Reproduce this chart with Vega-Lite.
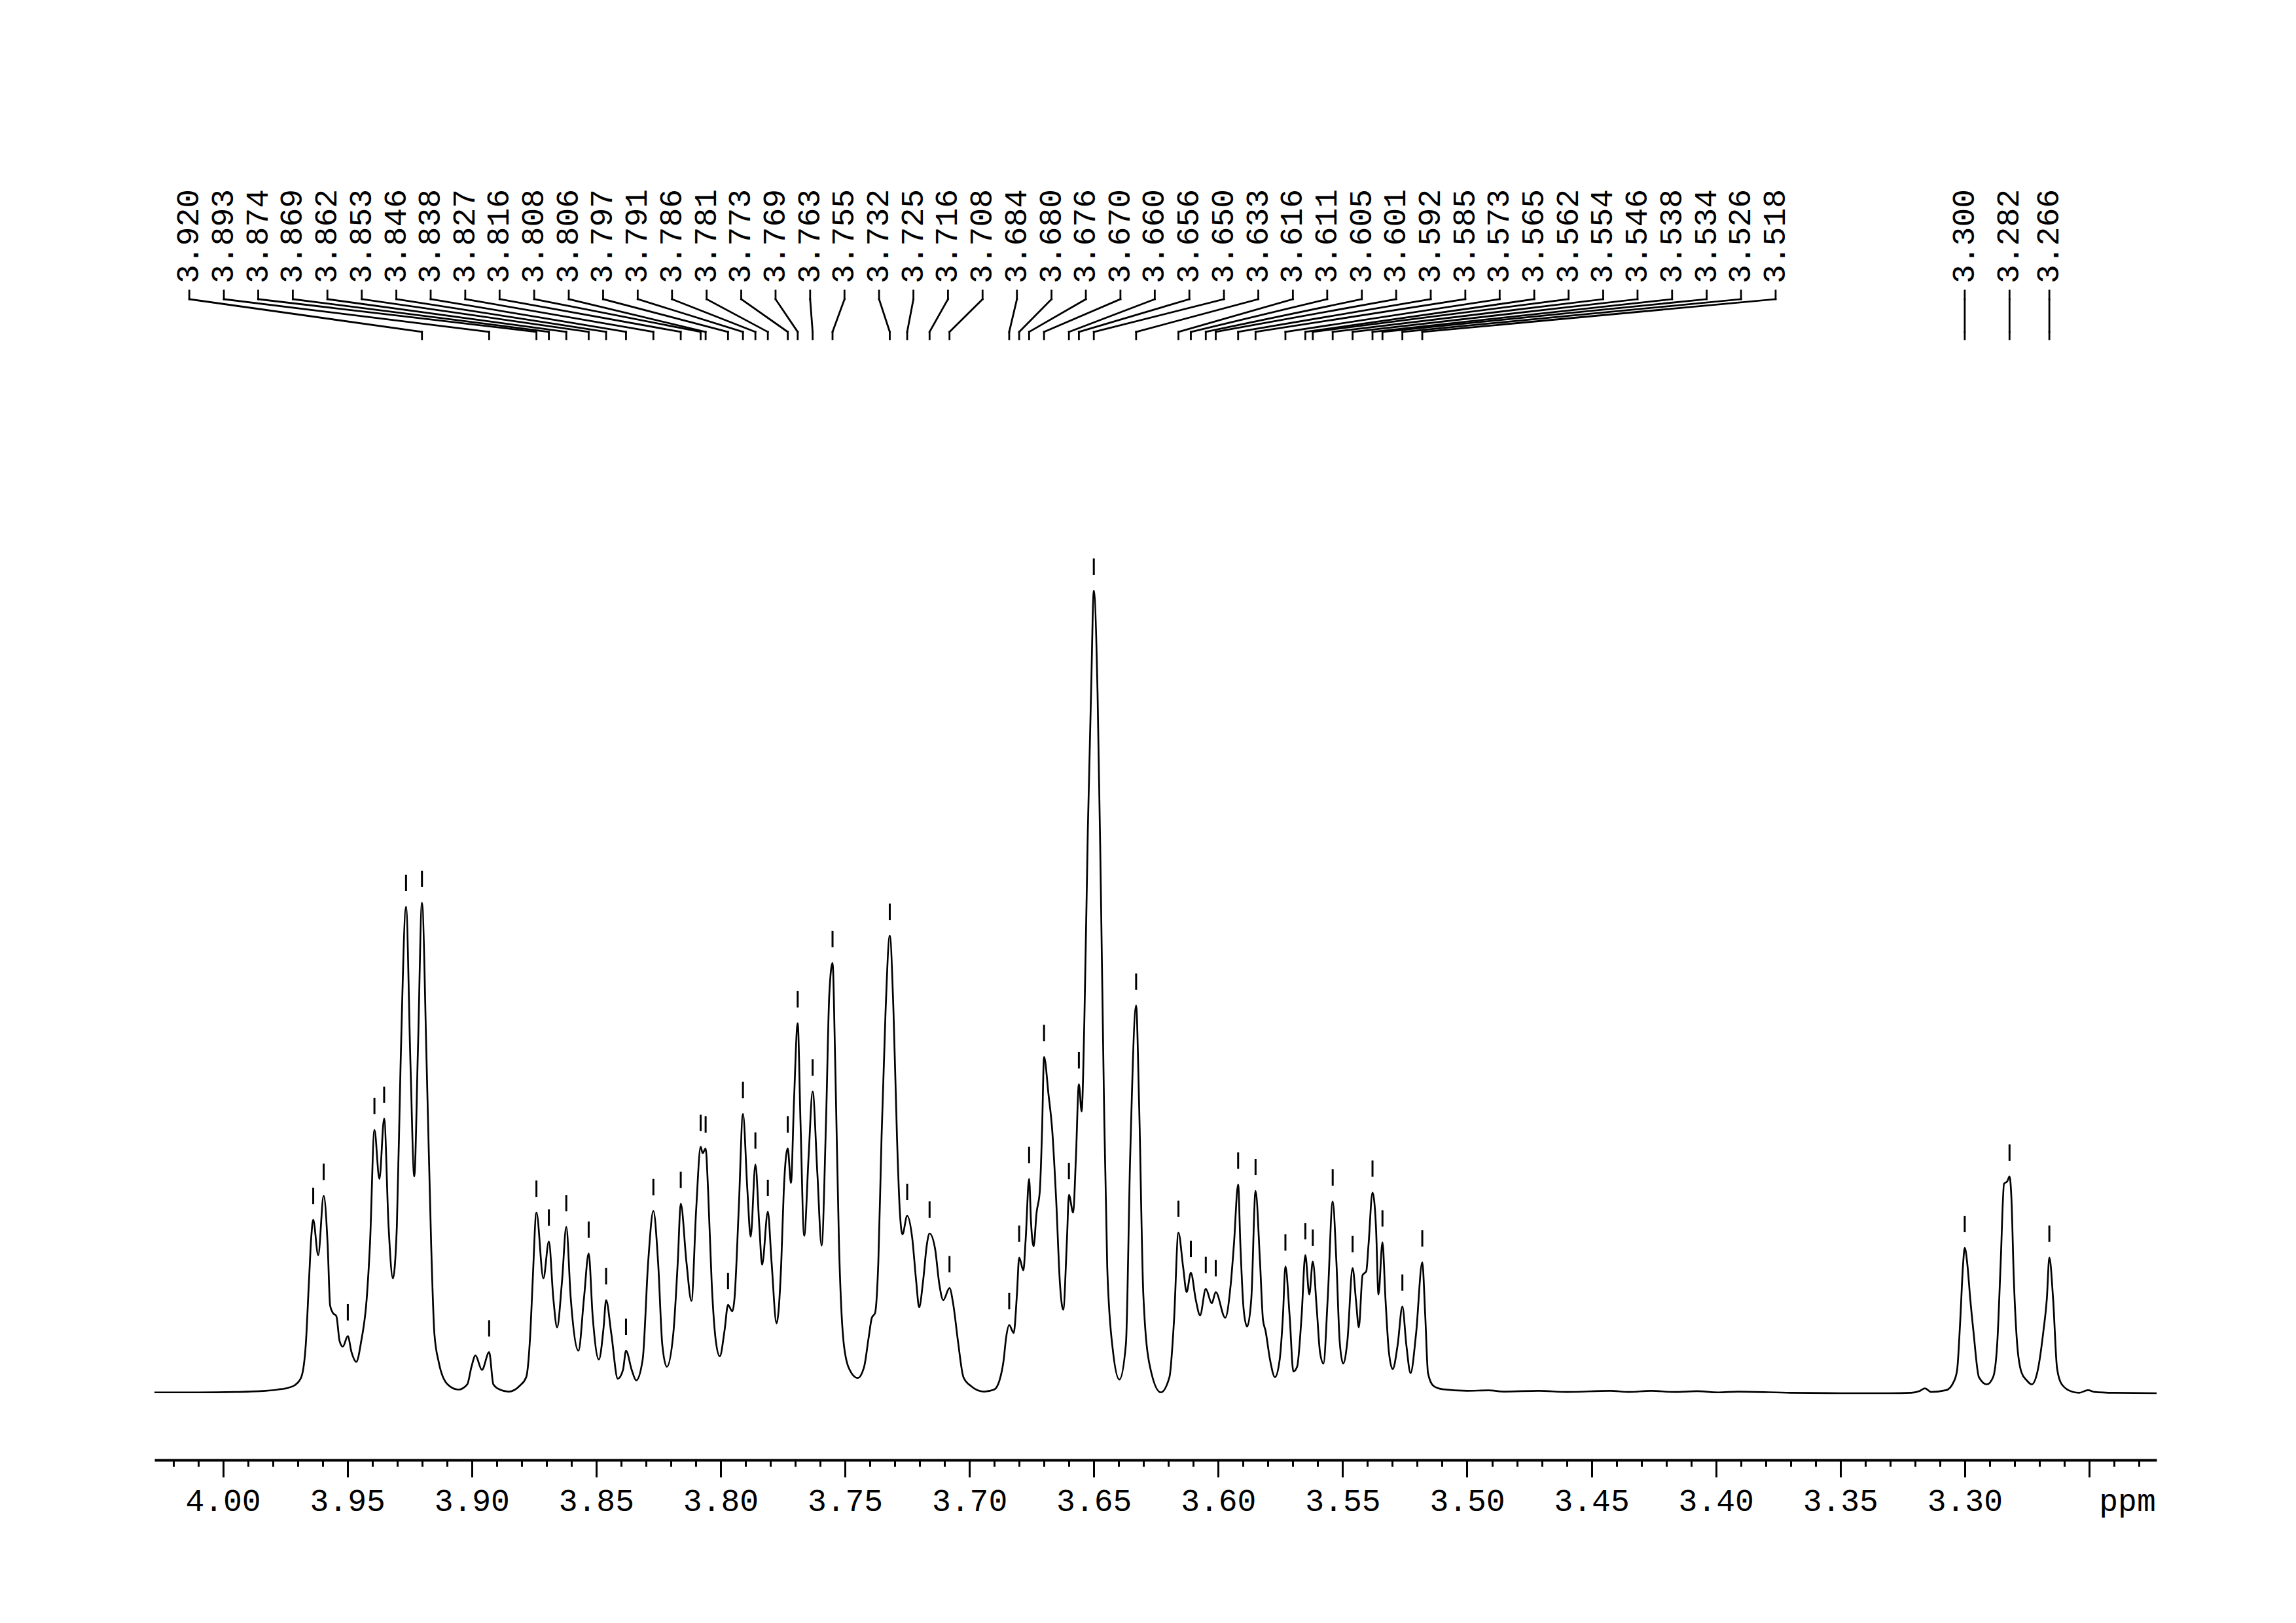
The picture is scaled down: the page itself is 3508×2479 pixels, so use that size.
{
 "$schema": "https://vega.github.io/schema/vega-lite/v6.json",
 "width": 3059, "height": 2230,
 "autosize": {"type": "none"},
 "padding": {"left": 236, "top": 0, "right": 213, "bottom": 249},
 "background": "white",
 "config": {"view": {"stroke": null}},
 "resolve": {"axis": {"x": "independent"}},
 "datasets": {
  "spectrum": [
   {"ppm":4.0275,"intensity":0.1},{"ppm":4.01,"intensity":0.1},{"ppm":3.995,"intensity":0.15},{"ppm":3.985,"intensity":0.25},{"ppm":3.978,"intensity":0.45},{"ppm":3.9735,"intensity":0.7},{"ppm":3.9711,"intensity":1.0},{"ppm":3.9685,"intensity":2.0},{"ppm":3.9667,"intensity":6.0},{"ppm":3.9654,"intensity":14.0},{"ppm":3.9645,"intensity":19.4},{"ppm":3.9637,"intensity":21.6},{"ppm":3.9617,"intensity":17.2},{"ppm":3.9595,"intensity":24.6},{"ppm":3.9579,"intensity":18.5},{"ppm":3.9569,"intensity":10.9},{"ppm":3.9558,"intensity":10.0},{"ppm":3.9544,"intensity":9.6},{"ppm":3.9531,"intensity":6.5},{"ppm":3.9518,"intensity":5.8},{"ppm":3.9498,"intensity":7.1},{"ppm":3.9483,"intensity":5.1},{"ppm":3.9464,"intensity":3.9},{"ppm":3.9444,"intensity":6.5},{"ppm":3.9422,"intensity":11.8},{"ppm":3.9409,"intensity":18.5},{"ppm":3.9391,"intensity":32.8},{"ppm":3.9371,"intensity":26.7},{"ppm":3.9352,"intensity":34.2},{"ppm":3.9334,"intensity":20.7},{"ppm":3.9317,"intensity":14.3},{"ppm":3.9301,"intensity":20.7},{"ppm":3.9286,"intensity":40.8},{"ppm":3.9264,"intensity":60.6},{"ppm":3.9246,"intensity":40.8},{"ppm":3.9231,"intensity":27.0},{"ppm":3.9216,"intensity":43.0},{"ppm":3.92,"intensity":61.1},{"ppm":3.9181,"intensity":40.8},{"ppm":3.9163,"intensity":18.5},{"ppm":3.915,"intensity":7.4},{"ppm":3.9132,"intensity":3.8},{"ppm":3.9097,"intensity":1.1},{"ppm":3.9054,"intensity":0.45},{"ppm":3.9018,"intensity":1.1},{"ppm":3.9001,"intensity":3.3},{"ppm":3.8985,"intensity":4.7},{"ppm":3.8959,"intensity":2.9},{"ppm":3.893,"intensity":5.1},{"ppm":3.8913,"intensity":1.1},{"ppm":3.8887,"intensity":0.45},{"ppm":3.8852,"intensity":0.2},{"ppm":3.8808,"intensity":0.9},{"ppm":3.8781,"intensity":2.0},{"ppm":3.8764,"intensity":7.8},{"ppm":3.8755,"intensity":14.0},{"ppm":3.874,"intensity":22.5},{"ppm":3.8712,"intensity":14.3},{"ppm":3.869,"intensity":18.9},{"ppm":3.8672,"intensity":11.8},{"ppm":3.8657,"intensity":8.2},{"ppm":3.8637,"intensity":14.0},{"ppm":3.862,"intensity":20.7},{"ppm":3.8602,"intensity":11.8},{"ppm":3.8571,"intensity":5.3},{"ppm":3.8549,"intensity":11.8},{"ppm":3.853,"intensity":17.4},{"ppm":3.8514,"intensity":9.6},{"ppm":3.8489,"intensity":4.2},{"ppm":3.847,"intensity":8.2},{"ppm":3.846,"intensity":11.6},{"ppm":3.8439,"intensity":7.4},{"ppm":3.8413,"intensity":1.8},{"ppm":3.8392,"intensity":2.9},{"ppm":3.838,"intensity":5.3},{"ppm":3.8357,"intensity":2.9},{"ppm":3.8339,"intensity":1.6},{"ppm":3.8313,"intensity":4.2},{"ppm":3.8291,"intensity":16.3},{"ppm":3.827,"intensity":22.7},{"ppm":3.8251,"intensity":16.3},{"ppm":3.8234,"intensity":6.0},{"ppm":3.8216,"intensity":3.3},{"ppm":3.819,"intensity":7.4},{"ppm":3.8172,"intensity":16.3},{"ppm":3.816,"intensity":23.6},{"ppm":3.8137,"intensity":16.3},{"ppm":3.8117,"intensity":11.5},{"ppm":3.8098,"intensity":22.9},{"ppm":3.808,"intensity":30.7},{"ppm":3.8072,"intensity":29.9},{"ppm":3.806,"intensity":30.5},{"ppm":3.805,"intensity":25.2},{"ppm":3.8036,"intensity":14.0},{"ppm":3.8019,"intensity":6.5},{"ppm":3.8003,"intensity":4.6},{"ppm":3.7984,"intensity":7.8},{"ppm":3.797,"intensity":11.0},{"ppm":3.7953,"intensity":10.2},{"ppm":3.7944,"intensity":11.8},{"ppm":3.7927,"intensity":22.9},{"ppm":3.791,"intensity":34.8},{"ppm":3.7892,"intensity":25.2},{"ppm":3.7879,"intensity":19.5},{"ppm":3.786,"intensity":28.5},{"ppm":3.7844,"intensity":20.7},{"ppm":3.7833,"intensity":16.0},{"ppm":3.781,"intensity":22.6},{"ppm":3.7795,"intensity":16.3},{"ppm":3.7775,"intensity":8.7},{"ppm":3.7756,"intensity":16.3},{"ppm":3.7746,"intensity":25.2},{"ppm":3.773,"intensity":30.5},{"ppm":3.7717,"intensity":26.2},{"ppm":3.7705,"intensity":36.3},{"ppm":3.769,"intensity":46.1},{"ppm":3.7679,"intensity":34.1},{"ppm":3.7664,"intensity":19.6},{"ppm":3.7646,"intensity":29.6},{"ppm":3.763,"intensity":37.6},{"ppm":3.7611,"intensity":27.4},{"ppm":3.7594,"intensity":18.4},{"ppm":3.7576,"intensity":34.1},{"ppm":3.7563,"intensity":49.7},{"ppm":3.755,"intensity":53.6},{"ppm":3.7539,"intensity":40.8},{"ppm":3.7524,"intensity":18.5},{"ppm":3.7506,"intensity":6.5},{"ppm":3.7484,"intensity":3.1},{"ppm":3.7449,"intensity":1.9},{"ppm":3.7423,"intensity":3.3},{"ppm":3.7405,"intensity":6.9},{"ppm":3.7392,"intensity":9.4},{"ppm":3.7379,"intensity":10.0},{"ppm":3.7366,"intensity":16.3},{"ppm":3.7353,"intensity":31.9},{"ppm":3.7337,"intensity":47.5},{"ppm":3.732,"intensity":57.0},{"ppm":3.7305,"intensity":47.5},{"ppm":3.7291,"intensity":31.9},{"ppm":3.728,"intensity":22.9},{"ppm":3.7269,"intensity":19.8},{"ppm":3.725,"intensity":22.1},{"ppm":3.723,"intensity":19.4},{"ppm":3.7214,"intensity":14.0},{"ppm":3.7202,"intensity":10.7},{"ppm":3.7186,"intensity":14.0},{"ppm":3.7171,"intensity":18.5},{"ppm":3.716,"intensity":19.9},{"ppm":3.7138,"intensity":18.0},{"ppm":3.7121,"intensity":13.6},{"ppm":3.7105,"intensity":11.6},{"ppm":3.708,"intensity":13.1},{"ppm":3.7064,"intensity":10.9},{"ppm":3.7046,"intensity":6.5},{"ppm":3.7024,"intensity":2.0},{"ppm":3.6994,"intensity":0.9},{"ppm":3.6941,"intensity":0.2},{"ppm":3.6901,"intensity":0.45},{"ppm":3.6879,"intensity":1.6},{"ppm":3.6862,"intensity":4.2},{"ppm":3.6853,"intensity":6.8},{"ppm":3.684,"intensity":8.5},{"ppm":3.6822,"intensity":7.5},{"ppm":3.6809,"intensity":12.3},{"ppm":3.68,"intensity":16.9},{"ppm":3.6783,"intensity":15.3},{"ppm":3.6774,"intensity":19.1},{"ppm":3.676,"intensity":26.7},{"ppm":3.6752,"intensity":21.1},{"ppm":3.6742,"intensity":18.3},{"ppm":3.673,"intensity":22.5},{"ppm":3.6717,"intensity":25.2},{"ppm":3.6708,"intensity":32.7},{"ppm":3.67,"intensity":41.9},{"ppm":3.6682,"intensity":37.2},{"ppm":3.6667,"intensity":32.7},{"ppm":3.6651,"intensity":23.9},{"ppm":3.6636,"intensity":13.6},{"ppm":3.6623,"intensity":10.4},{"ppm":3.6608,"intensity":19.1},{"ppm":3.66,"intensity":24.7},{"ppm":3.6583,"intensity":22.5},{"ppm":3.6572,"intensity":29.3},{"ppm":3.656,"intensity":38.5},{"ppm":3.6549,"intensity":35.1},{"ppm":3.6538,"intensity":46.4},{"ppm":3.6524,"intensity":70.2},{"ppm":3.6511,"intensity":87.3},{"ppm":3.65,"intensity":100},{"ppm":3.6485,"intensity":87.3},{"ppm":3.6472,"intensity":63.4},{"ppm":3.6459,"intensity":36.1},{"ppm":3.6446,"intensity":15.7},{"ppm":3.6424,"intensity":5.5},{"ppm":3.6397,"intensity":1.7},{"ppm":3.6371,"intensity":6.1},{"ppm":3.6354,"intensity":29.3},{"ppm":3.633,"intensity":48.3},{"ppm":3.6318,"intensity":36.1},{"ppm":3.6301,"intensity":12.3},{"ppm":3.6275,"intensity":3.4},{"ppm":3.6231,"intensity":0.1},{"ppm":3.6196,"intensity":2.0},{"ppm":3.6178,"intensity":8.9},{"ppm":3.616,"intensity":20.0},{"ppm":3.6141,"intensity":15.7},{"ppm":3.6127,"intensity":12.6},{"ppm":3.611,"intensity":15.0},{"ppm":3.609,"intensity":11.6},{"ppm":3.6073,"intensity":9.7},{"ppm":3.605,"intensity":13.0},{"ppm":3.6026,"intensity":11.2},{"ppm":3.601,"intensity":12.6},{"ppm":3.5972,"intensity":9.4},{"ppm":3.595,"intensity":13.5},{"ppm":3.5937,"intensity":18.5},{"ppm":3.592,"intensity":26.0},{"ppm":3.5911,"intensity":18.5},{"ppm":3.5898,"intensity":10.5},{"ppm":3.5884,"intensity":8.3},{"ppm":3.5867,"intensity":11.8},{"ppm":3.585,"intensity":25.2},{"ppm":3.5832,"intensity":16.3},{"ppm":3.582,"intensity":9.1},{"ppm":3.581,"intensity":7.8},{"ppm":3.5792,"intensity":4.2},{"ppm":3.5772,"intensity":2.0},{"ppm":3.5753,"intensity":4.2},{"ppm":3.574,"intensity":9.6},{"ppm":3.573,"intensity":15.8},{"ppm":3.5713,"intensity":9.6},{"ppm":3.5698,"intensity":2.7},{"ppm":3.5683,"intensity":3.3},{"ppm":3.5665,"intensity":9.6},{"ppm":3.565,"intensity":17.2},{"ppm":3.5634,"intensity":12.3},{"ppm":3.562,"intensity":16.4},{"ppm":3.5604,"intensity":10.5},{"ppm":3.5591,"intensity":5.1},{"ppm":3.5577,"intensity":3.7},{"ppm":3.556,"intensity":11.8},{"ppm":3.554,"intensity":23.9},{"ppm":3.5525,"intensity":16.3},{"ppm":3.5512,"intensity":6.5},{"ppm":3.5498,"intensity":3.7},{"ppm":3.5481,"intensity":6.5},{"ppm":3.546,"intensity":15.6},{"ppm":3.5446,"intensity":11.4},{"ppm":3.5435,"intensity":8.2},{"ppm":3.542,"intensity":14.7},{"ppm":3.5405,"intensity":15.2},{"ppm":3.5396,"intensity":18.5},{"ppm":3.538,"intensity":25.0},{"ppm":3.5366,"intensity":20.7},{"ppm":3.5356,"intensity":12.3},{"ppm":3.534,"intensity":18.8},{"ppm":3.5328,"intensity":11.8},{"ppm":3.5314,"intensity":5.1},{"ppm":3.5299,"intensity":3.0},{"ppm":3.5279,"intensity":6.0},{"ppm":3.526,"intensity":10.8},{"ppm":3.5244,"intensity":6.0},{"ppm":3.5227,"intensity":2.5},{"ppm":3.5205,"intensity":7.4},{"ppm":3.518,"intensity":16.3},{"ppm":3.5168,"intensity":9.6},{"ppm":3.5157,"intensity":2.5},{"ppm":3.5135,"intensity":0.9},{"ppm":3.51,"intensity":0.5},{"ppm":3.5,"intensity":0.3},{"ppm":3.4914,"intensity":0.35},{"ppm":3.485,"intensity":0.2},{"ppm":3.4712,"intensity":0.3},{"ppm":3.46,"intensity":0.15},{"ppm":3.4425,"intensity":0.3},{"ppm":3.435,"intensity":0.15},{"ppm":3.426,"intensity":0.3},{"ppm":3.417,"intensity":0.15},{"ppm":3.4076,"intensity":0.25},{"ppm":3.399,"intensity":0.1},{"ppm":3.391,"intensity":0.2},{"ppm":3.37,"intensity":0.05},{"ppm":3.35,"intensity":0.0},{"ppm":3.33,"intensity":0.0},{"ppm":3.3215,"intensity":0.05},{"ppm":3.3184,"intensity":0.24},{"ppm":3.316,"intensity":0.6},{"ppm":3.3136,"intensity":0.16},{"ppm":3.3075,"intensity":0.38},{"ppm":3.3048,"intensity":1.2},{"ppm":3.3031,"intensity":2.8},{"ppm":3.3018,"intensity":9.1},{"ppm":3.3007,"intensity":15.9},{"ppm":3.3,"intensity":18.1},{"ppm":3.2989,"intensity":15.9},{"ppm":3.2978,"intensity":11.8},{"ppm":3.2965,"intensity":7.7},{"ppm":3.2943,"intensity":2.0},{"ppm":3.2911,"intensity":1.1},{"ppm":3.2886,"intensity":2.0},{"ppm":3.2869,"intensity":6.4},{"ppm":3.2856,"intensity":15.9},{"ppm":3.2842,"intensity":26.1},{"ppm":3.2829,"intensity":26.4},{"ppm":3.282,"intensity":27.0},{"ppm":3.2812,"intensity":24.0},{"ppm":3.2803,"intensity":14.5},{"ppm":3.279,"intensity":6.4},{"ppm":3.2772,"intensity":2.6},{"ppm":3.2751,"intensity":1.6},{"ppm":3.2731,"intensity":1.1},{"ppm":3.2707,"intensity":2.8},{"ppm":3.2684,"intensity":7.7},{"ppm":3.267,"intensity":11.8},{"ppm":3.266,"intensity":16.9},{"ppm":3.2645,"intensity":11.8},{"ppm":3.2629,"intensity":3.1},{"ppm":3.261,"intensity":1.1},{"ppm":3.2566,"intensity":0.16},{"ppm":3.254,"intensity":0.05},{"ppm":3.2505,"intensity":0.38},{"ppm":3.2478,"intensity":0.16},{"ppm":3.24,"intensity":0.05},{"ppm":3.2229,"intensity":0.0}
  ],
  "peaks": [
   {"ppm":3.9637,"height":21.6},{"ppm":3.9595,"height":24.6},{"ppm":3.9498,"height":7.1},{"ppm":3.9391,"height":32.8},{"ppm":3.9352,"height":34.2},{"ppm":3.9264,"height":60.6},{"ppm":3.92,"height":61.1},{"ppm":3.893,"height":5.1},{"ppm":3.874,"height":22.5},{"ppm":3.869,"height":18.9},{"ppm":3.862,"height":20.7},{"ppm":3.853,"height":17.4},{"ppm":3.846,"height":11.6},{"ppm":3.838,"height":5.3},{"ppm":3.827,"height":22.7},{"ppm":3.816,"height":23.6},{"ppm":3.808,"height":30.7},{"ppm":3.806,"height":30.5},{"ppm":3.797,"height":11.0},{"ppm":3.791,"height":34.8},{"ppm":3.786,"height":28.5},{"ppm":3.781,"height":22.6},{"ppm":3.773,"height":30.5},{"ppm":3.769,"height":46.1},{"ppm":3.763,"height":37.6},{"ppm":3.755,"height":53.6},{"ppm":3.732,"height":57.0},{"ppm":3.725,"height":22.1},{"ppm":3.716,"height":19.9},{"ppm":3.708,"height":13.1},{"ppm":3.684,"height":8.5},{"ppm":3.68,"height":16.9},{"ppm":3.676,"height":26.7},{"ppm":3.67,"height":41.9},{"ppm":3.66,"height":24.7},{"ppm":3.656,"height":38.5},{"ppm":3.65,"height":100},{"ppm":3.633,"height":48.3},{"ppm":3.616,"height":20.0},{"ppm":3.611,"height":15.0},{"ppm":3.605,"height":13.0},{"ppm":3.601,"height":12.6},{"ppm":3.592,"height":26.0},{"ppm":3.585,"height":25.2},{"ppm":3.573,"height":15.8},{"ppm":3.565,"height":17.2},{"ppm":3.562,"height":16.4},{"ppm":3.554,"height":23.9},{"ppm":3.546,"height":15.6},{"ppm":3.538,"height":25.0},{"ppm":3.534,"height":18.8},{"ppm":3.526,"height":10.8},{"ppm":3.518,"height":16.3},{"ppm":3.3,"height":18.1},{"ppm":3.282,"height":27.0},{"ppm":3.266,"height":16.9}
  ],
  "labels": [
   {"ppm":3.92,"lx":4.0135},{"ppm":3.893,"lx":3.9996},{"ppm":3.874,"lx":3.9858},{"ppm":3.869,"lx":3.9719},{"ppm":3.862,"lx":3.958},{"ppm":3.853,"lx":3.9442},{"ppm":3.846,"lx":3.9303},{"ppm":3.838,"lx":3.9165},{"ppm":3.827,"lx":3.9026},{"ppm":3.816,"lx":3.8888},{"ppm":3.808,"lx":3.8749},{"ppm":3.806,"lx":3.861},{"ppm":3.797,"lx":3.8472},{"ppm":3.791,"lx":3.8333},{"ppm":3.786,"lx":3.8195},{"ppm":3.781,"lx":3.8056},{"ppm":3.773,"lx":3.7917},{"ppm":3.769,"lx":3.7779},{"ppm":3.763,"lx":3.764},{"ppm":3.755,"lx":3.7502},{"ppm":3.732,"lx":3.7363},{"ppm":3.725,"lx":3.7225},{"ppm":3.716,"lx":3.7086},{"ppm":3.708,"lx":3.6947},{"ppm":3.684,"lx":3.6809},{"ppm":3.68,"lx":3.667},{"ppm":3.676,"lx":3.6532},{"ppm":3.67,"lx":3.6393},{"ppm":3.66,"lx":3.6255},{"ppm":3.656,"lx":3.6116},{"ppm":3.65,"lx":3.5977},{"ppm":3.633,"lx":3.5839},{"ppm":3.616,"lx":3.57},{"ppm":3.611,"lx":3.5562},{"ppm":3.605,"lx":3.5423},{"ppm":3.601,"lx":3.5285},{"ppm":3.592,"lx":3.5146},{"ppm":3.585,"lx":3.5007},{"ppm":3.573,"lx":3.4869},{"ppm":3.565,"lx":3.473},{"ppm":3.562,"lx":3.4592},{"ppm":3.554,"lx":3.4453},{"ppm":3.546,"lx":3.4315},{"ppm":3.538,"lx":3.4176},{"ppm":3.534,"lx":3.4037},{"ppm":3.526,"lx":3.3899},{"ppm":3.518,"lx":3.376},{"ppm":3.3,"lx":3.3},{"ppm":3.282,"lx":3.282},{"ppm":3.266,"lx":3.266}
  ]
 },
 "layer": [
  {
   "data": {"name": "spectrum"},
   "mark": {"type": "line", "color": "black", "strokeWidth": 2.7, "interpolate": "monotone"},
   "encoding": {
    "x": {"field": "ppm", "type": "quantitative",
     "scale": {"domain": [3.2229, 4.0275], "reverse": true, "nice": false, "zero": false},
     "axis": {
      "orient": "bottom",
      "values": [3.23,3.24,3.26,3.27,3.28,3.29,3.31,3.32,3.33,3.34,3.36,3.37,3.38,3.39,3.41,3.42,3.43,3.44,3.46,3.47,3.48,3.49,3.51,3.52,3.53,3.54,3.56,3.57,3.58,3.59,3.61,3.62,3.63,3.64,3.66,3.67,3.68,3.69,3.71,3.72,3.73,3.74,3.76,3.77,3.78,3.79,3.81,3.82,3.83,3.84,3.86,3.87,3.88,3.89,3.91,3.92,3.93,3.94,3.96,3.97,3.98,3.99,4.01,4.02],
      "labels": false, "ticks": true, "tickSize": 10, "tickWidth": 3, "tickColor": "black",
      "domain": true, "domainWidth": 4, "domainColor": "black", "grid": false, "title": null
     }
    },
    "y": {"field": "intensity", "type": "quantitative", "scale": {"domain": [-8.32, 173.57], "nice": false, "zero": false}, "axis": null}
   }
  },
  {
   "data": {"name": "peaks"},
   "mark": {"type": "rule", "color": "black", "strokeWidth": 3, "yOffset": -24, "y2Offset": -49},
   "encoding": {
    "x": {"field": "ppm", "type": "quantitative", "scale": {"domain": [3.2229, 4.0275], "reverse": true, "nice": false, "zero": false},
     "axis": {
      "orient": "bottom",
      "values": [3.25,3.3,3.35,3.4,3.45,3.5,3.55,3.6,3.65,3.7,3.75,3.8,3.85,3.9,3.95,4],
      "labelExpr": "datum.value > 3.26 ? format(datum.value,'.2f') : ''",
      "labelFont": "Liberation Mono", "labelFontSize": 48, "labelColor": "black",
      "labelBaseline": "alphabetic", "labelPadding": 51, "labelOverlap": false, "labelBound": false, "labelFlush": false,
      "ticks": true, "tickSize": 26, "tickWidth": 3, "tickColor": "black",
      "domain": false, "grid": false,
      "title": "ppm", "titleX": 3014, "titleY": 77, "titleAlign": "center", "titleBaseline": "alphabetic",
      "titleFont": "Liberation Mono", "titleFontSize": 48, "titleFontWeight": "normal", "titleColor": "black"
     }
    },
    "y": {"field": "height", "type": "quantitative", "scale": {"domain": [-8.32, 173.57], "nice": false, "zero": false}, "axis": null},
    "y2": {"field": "height"}
   }
  },
  {
   "data": {"name": "labels"},
   "mark": {"type": "rule", "color": "black", "strokeWidth": 2.8, "strokeCap": "square"},
   "encoding": {
    "x": {"field": "lx", "type": "quantitative", "scale": {"domain": [3.2229, 4.0275], "reverse": true, "nice": false, "zero": false}, "axis": null},
    "y": {"datum": 137.36, "type": "quantitative", "scale": {"domain": [-8.32, 173.57], "nice": false, "zero": false}, "axis": null},
    "y2": {"datum": 136.3}
   }
  },
  {
   "data": {"name": "labels"},
   "mark": {"type": "rule", "color": "black", "strokeWidth": 2.8, "strokeCap": "square"},
   "encoding": {
    "x": {"field": "lx", "type": "quantitative", "scale": {"domain": [3.2229, 4.0275], "reverse": true, "nice": false, "zero": false}, "axis": null},
    "x2": {"field": "ppm"},
    "y": {"datum": 136.3, "type": "quantitative", "scale": {"domain": [-8.32, 173.57], "nice": false, "zero": false}, "axis": null},
    "y2": {"datum": 132.22}
   }
  },
  {
   "data": {"name": "labels"},
   "mark": {"type": "rule", "color": "black", "strokeWidth": 2.8, "strokeCap": "square"},
   "encoding": {
    "x": {"field": "ppm", "type": "quantitative", "scale": {"domain": [3.2229, 4.0275], "reverse": true, "nice": false, "zero": false}, "axis": null},
    "y": {"datum": 132.22, "type": "quantitative", "scale": {"domain": [-8.32, 173.57], "nice": false, "zero": false}, "axis": null},
    "y2": {"datum": 131.32}
   }
  },
  {
   "data": {"name": "labels"},
   "mark": {"type": "text", "angle": 270, "align": "left", "baseline": "middle", "font": "Liberation Mono", "fontSize": 48, "color": "black"},
   "encoding": {
    "x": {"field": "lx", "type": "quantitative", "scale": {"domain": [3.2229, 4.0275], "reverse": true, "nice": false, "zero": false}, "axis": null},
    "y": {"datum": 138.25, "type": "quantitative", "scale": {"domain": [-8.32, 173.57], "nice": false, "zero": false}, "axis": null},
    "text": {"field": "ppm", "type": "quantitative", "format": ".3f"}
   }
  }
 ]
}
